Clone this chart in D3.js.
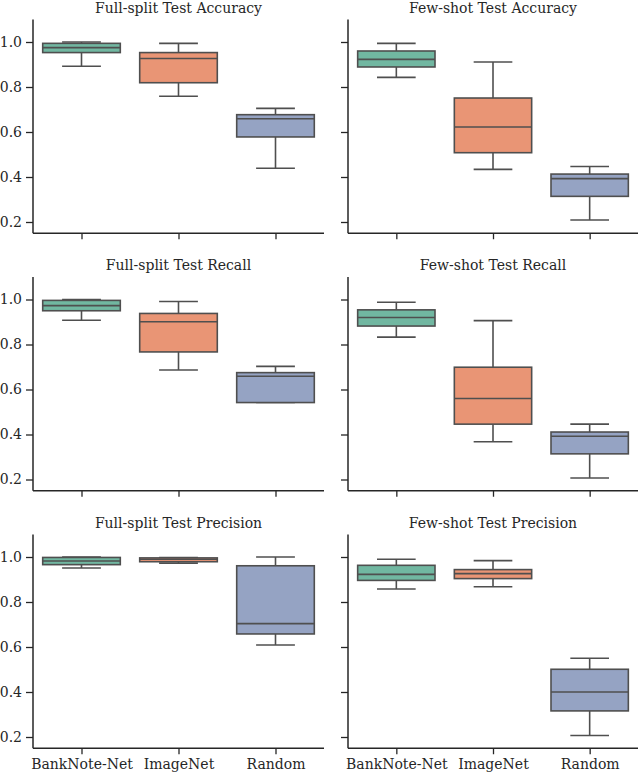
<!DOCTYPE html>
<html>
<head>
<meta charset="utf-8">
<script src="https://cdn.jsdelivr.net/npm/d3@7"></script>
<style>
  html, body { margin: 0; padding: 0; background: #ffffff; }
  svg { display: block; }
  text { font-family: "DejaVu Serif", serif; fill: #262626; }
</style>
</head>
<body>
<svg id="chart" width="640" height="776"></svg>
<script>
// ---------- data ----------
const categories = ["BankNote-Net", "ImageNet", "Random"];
const yTicks = [0.2, 0.4, 0.6, 0.8, 1.0];
const panelTitles = [
  "Full-split Test Accuracy", "Few-shot Test Accuracy",
  "Full-split Test Recall", "Few-shot Test Recall",
  "Full-split Test Precision", "Few-shot Test Precision"
];
// each entry: [lower whisker, Q1, median, Q3, upper whisker]
const fullAccuracy  = [[0.892, 0.953, 0.975, 0.994, 1.000], [0.759, 0.819, 0.927, 0.953, 0.994], [0.439, 0.578, 0.659, 0.677, 0.705]];
const fewAccuracy   = [[0.843, 0.889, 0.923, 0.960, 0.994], [0.434, 0.508, 0.622, 0.751, 0.911], [0.209, 0.314, 0.393, 0.413, 0.447]];
const fullRecall    = [[0.908, 0.950, 0.973, 0.996, 1.000], [0.687, 0.767, 0.901, 0.938, 0.991], [0.542, 0.542, 0.659, 0.675, 0.703]];
const fewRecall     = [[0.833, 0.882, 0.920, 0.954, 0.988], [0.368, 0.446, 0.560, 0.699, 0.906], [0.207, 0.314, 0.392, 0.411, 0.446]];
const fullPrecision = [[0.951, 0.966, 0.982, 0.998, 1.000], [0.973, 0.979, 0.990, 0.996, 0.998], [0.609, 0.658, 0.704, 0.961, 1.000]];
const fewPrecision  = [[0.858, 0.896, 0.923, 0.963, 0.990], [0.868, 0.904, 0.926, 0.944, 0.984], [0.207, 0.316, 0.400, 0.501, 0.550]];
const panelData = [fullAccuracy, fewAccuracy, fullRecall, fewRecall, fullPrecision, fewPrecision];
const boxColors = ["#71b7a1", "#e99575", "#95a3c3"];

// ---------- layout ----------
const colX = [[33, 324], [348, 638]];
const rowTop = [19.5, 277, 534.5];
const panelH = 213.75;
const lineColor = "#4f4f4f";
const axisColor = "#262626";
const fontSize = 14;

const svg = d3.select("#chart");

panelData.forEach((data, i) => {
  const row = Math.floor(i / 2), col = i % 2;
  const [x0, x1] = colX[col];
  const top = rowTop[row], bottom = top + panelH;

  const x = d3.scaleBand().domain(categories).range([x0, x1]).paddingInner(0.2).paddingOuter(0.1);
  const xc = d3.scalePoint().domain(categories).range([x0, x1]).padding(0.5);
  const y = d3.scaleLinear().domain([0.15, 1.1]).range([bottom, top]);

  const g = svg.append("g");

  // boxes
  categories.forEach((c, k) => {
    const [lo, q1, med, q3, hi] = data[k];
    const cx = xc(c);
    const bw = x.bandwidth();
    const gb = g.append("g");
    // whiskers
    gb.append("line").attr("x1", cx).attr("x2", cx).attr("y1", y(q3)).attr("y2", y(hi))
      .attr("stroke", lineColor).attr("stroke-width", 1.6);
    gb.append("line").attr("x1", cx).attr("x2", cx).attr("y1", y(q1)).attr("y2", y(lo))
      .attr("stroke", lineColor).attr("stroke-width", 1.6);
    // caps
    [lo, hi].forEach(v => {
      gb.append("line").attr("x1", cx - bw / 4).attr("x2", cx + bw / 4).attr("y1", y(v)).attr("y2", y(v))
        .attr("stroke", lineColor).attr("stroke-width", 1.6);
    });
    // box
    gb.append("rect").attr("x", cx - bw / 2).attr("width", bw)
      .attr("y", y(q3)).attr("height", Math.max(0.5, y(q1) - y(q3)))
      .attr("fill", boxColors[k]).attr("stroke", lineColor).attr("stroke-width", 1.6);
    // median
    gb.append("line").attr("x1", cx - bw / 2).attr("x2", cx + bw / 2).attr("y1", y(med)).attr("y2", y(med))
      .attr("stroke", lineColor).attr("stroke-width", 1.6);
  });

  // y axis
  const yAxis = d3.axisLeft(y).tickValues(yTicks).tickSize(7).tickPadding(4)
    .tickFormat(col === 0 ? d3.format(".1f") : () => "");
  const ya = g.append("g").attr("transform", `translate(${x0},0)`).call(yAxis);
  ya.select(".domain").remove();
  ya.append("line").attr("x1", 0).attr("x2", 0).attr("y1", top).attr("y2", bottom)
    .attr("stroke", axisColor).attr("stroke-width", 1.5);
  ya.selectAll(".tick line").attr("stroke", axisColor).attr("stroke-width", 1.3);
  ya.selectAll(".tick text").attr("font-size", fontSize).attr("fill", axisColor)
    .style("font-family", "DejaVu Serif");

  // x axis
  const xAxis = d3.axisBottom(xc).tickSize(6).tickPadding(5)
    .tickFormat(row === 2 ? (d => d) : () => "");
  const xa = g.append("g").attr("transform", `translate(0,${bottom})`).call(xAxis);
  xa.select(".domain").remove();
  xa.append("line").attr("x1", x0).attr("x2", x1).attr("y1", 0).attr("y2", 0)
    .attr("stroke", axisColor).attr("stroke-width", 1.5);
  xa.selectAll(".tick line").attr("stroke", axisColor).attr("stroke-width", 1.3);
  xa.selectAll(".tick text").attr("font-size", fontSize).attr("fill", axisColor)
    .style("font-family", "DejaVu Serif");

  // title
  g.append("text").attr("x", (x0 + x1) / 2).attr("y", top - 7)
    .attr("text-anchor", "middle").attr("font-size", fontSize)
    .text(panelTitles[i]);
});
</script>
</body>
</html>
